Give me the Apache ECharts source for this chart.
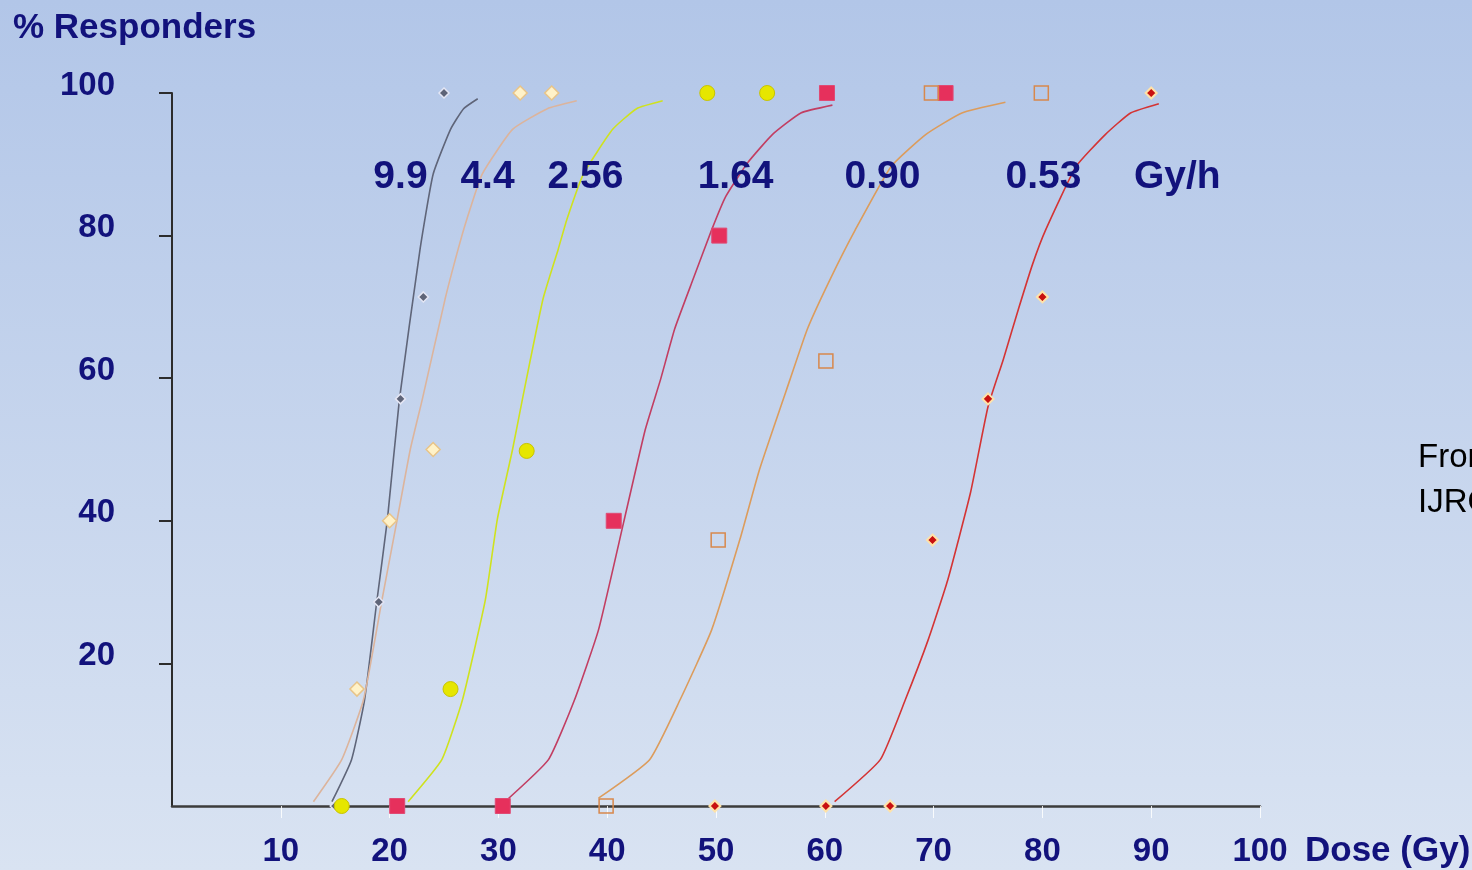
<!DOCTYPE html>
<html>
<head>
<meta charset="utf-8">
<script src="https://cdn.jsdelivr.net/npm/echarts@6/dist/echarts.min.js"></script>
<style>
html,body{margin:0;padding:0;width:1472px;height:870px;overflow:hidden;background:#c4d3ec;}
#chart{width:1472px;height:870px;}
</style>
</head>
<body>
<div id="chart"></div>
<script>
// ---- Data ----
const xTicks = [0, 10, 20, 30, 40, 50, 60, 70, 80, 90, 100];
const yTicks = [0, 20, 40, 60, 80, 100];
const rateLabels = ['9.9', '4.4', '2.56', '1.64', '0.90', '0.53', 'Gy/h'];
const rateLabelDose = [21.0, 29.0, 38.0, 51.8, 65.3, 80.1, 92.4];
const rateLabelResp = [88.2, 88.2, 88.2, 88.2, 88.2, 88.2, 88.2];

// observed points (dose Gy, % responders)
const obsDose1 = [15.0, 19.0, 21.0, 23.1, 25.0];
const obsResp1 = [0, 28.6, 57.1, 71.4, 100];
const obsDose2 = [17.0, 20.0, 24.0, 32.0, 34.9];
const obsResp2 = [16.4, 40.0, 50.0, 100, 100];
const obsDose3 = [15.6, 25.6, 32.6, 49.2, 54.7];
const obsResp3 = [0, 16.4, 49.8, 100, 100];
const obsDose4 = [20.7, 30.4, 40.6, 50.3, 60.2, 71.1];
const obsResp4 = [0, 0, 40.0, 80.0, 100, 100];
const obsDose5 = [39.9, 50.2, 60.1, 69.8, 79.9];
const obsResp5 = [0, 37.3, 62.4, 100, 100];
const obsDose6 = [49.9, 60.1, 66.0, 69.9, 75.0, 80.0, 90.0];
const obsResp6 = [0, 0, 0, 37.3, 57.1, 71.4, 100];

// fitted curves
const fitDose1 = [14.7, 16.5, 17.7, 18.8, 19.8, 20.9, 22.8, 24.0, 25.6, 26.8, 28.1];
const fitResp1 = [0.6, 6.5, 14.9, 28.4, 40.2, 57.0, 78.1, 88.6, 94.9, 97.8, 99.2];
const fitDose2 = [13.0, 15.6, 17.6, 19.3, 20.7, 21.9, 23.0, 25.1, 26.3, 27.1, 28.5, 31.3, 34.5, 37.2];
const fitResp2 = [0.6, 6.5, 14.9, 28.9, 40.2, 50.0, 57.0, 71.1, 78.1, 82.3, 88.6, 94.9, 97.8, 98.9];
const fitDose3 = [21.7, 24.8, 26.7, 28.8, 29.9, 31.3, 32.2, 34.1, 35.5, 36.3, 37.8, 40.5, 42.7, 45.1];
const fitResp3 = [0.6, 6.5, 14.9, 28.9, 40.2, 50.0, 57.0, 71.1, 78.1, 82.3, 88.6, 94.9, 97.8, 98.9];
const fitDose4 = [30.6, 34.6, 37.0, 39.2, 41.5, 43.5, 44.9, 46.2, 47.9, 49.6, 50.9, 52.9, 55.2, 57.8, 60.7];
const fitResp4 = [0.6, 6.5, 14.9, 24.7, 39.7, 52.8, 59.8, 66.9, 73.9, 80.8, 85.5, 90.2, 94.2, 97.2, 98.3];
const fitDose5 = [39.2, 43.9, 46.7, 49.6, 52.2, 54.0, 56.8, 58.4, 60.5, 62.8, 66.1, 69.3, 72.6, 76.6];
const fitResp5 = [1.1, 6.5, 14.9, 24.7, 37.4, 47.2, 59.8, 66.9, 73.9, 80.8, 89.7, 94.2, 97.2, 98.7];
const fitDose6 = [60.9, 65.1, 67.4, 69.5, 71.3, 73.4, 75.0, 76.4, 77.8, 79.1, 80.3, 83.1, 85.8, 88.1, 90.7];
const fitResp6 = [0.6, 6.5, 14.9, 23.3, 31.7, 44.0, 56.0, 62.6, 69.7, 76.0, 80.8, 89.7, 94.2, 97.2, 98.5];

// ---- Build ----
const zip = (a, b) => a.map((v, i) => [v, b[i]]);
const font = '"Liberation Sans", Arial, sans-serif';
const navy = '#12127c';

const curveColors = ['#5f6579', '#dcb49c', '#cfe21e', '#c23e62', '#dc9c5c', '#d43434'];
const fits = [[fitDose1, fitResp1], [fitDose2, fitResp2], [fitDose3, fitResp3],
              [fitDose4, fitResp4], [fitDose5, fitResp5], [fitDose6, fitResp6]];
const obs = [[obsDose1, obsResp1], [obsDose2, obsResp2], [obsDose3, obsResp3],
             [obsDose4, obsResp4], [obsDose5, obsResp5], [obsDose6, obsResp6]];
const markerStyles = [
  {symbol: 'diamond', size: 10, color: '#5e6478', border: '#e4e6f4', bw: 1.5},
  {symbol: 'diamond', size: 14, color: '#fff2c8', border: '#e8c488', bw: 1.5},
  {symbol: 'circle', size: 15, color: '#e6e600', border: '#c8c400', bw: 1},
  {symbol: 'rect', size: 15, color: '#e6305c', border: '#e04a74', bw: 1},
  {symbol: 'rect', size: 14, color: 'rgba(0,0,0,0)', border: '#d8884c', bw: 1.5},
  {symbol: 'diamond', size: 11, color: '#c81010', border: '#ffe2a8', bw: 2}
];

const series = [];
fits.forEach((f, i) => {
  series.push({
    type: 'line', name: 'fit ' + rateLabels[i], data: zip(f[0], f[1]),
    showSymbol: false, smooth: 0.15, silent: true, z: 2,
    lineStyle: {color: curveColors[i], width: 1.6}
  });
});
obs.forEach((o, i) => {
  const m = markerStyles[i];
  series.push({
    type: 'scatter', name: rateLabels[i] + ' Gy/h', data: zip(o[0], o[1]),
    symbol: m.symbol, symbolSize: m.size, z: 4,
    itemStyle: {color: m.color, borderColor: m.border, borderWidth: m.bw, opacity: 1}
  });
});
series.push({
  type: 'scatter', name: 'rates', silent: true, z: 6,
  symbolSize: 1, itemStyle: {color: 'rgba(0,0,0,0)', opacity: 1},
  data: rateLabels.map((t, i) => ({name: t, value: [rateLabelDose[i], rateLabelResp[i]]})),
  label: {show: true, position: 'inside', formatter: p => p.name, opacity: 1,
          color: navy, fontSize: 39, fontWeight: 'bold', fontFamily: font}
});

const chart = echarts.init(document.getElementById('chart'), null, {renderer: 'canvas'});
chart.setOption({
  animation: false,
  backgroundColor: {
    type: 'linear', x: 0, y: 0, x2: 0, y2: 1,
    colorStops: [{offset: 0, color: '#b2c6e8'}, {offset: 1, color: '#d9e3f2'}]
  },
  grid: {left: 172, right: 212, top: 93, bottom: 64, containLabel: false},
  xAxis: {
    type: 'value', min: xTicks[0], max: xTicks[xTicks.length - 1], interval: 10,
    splitLine: {show: false},
    axisLine: {show: true, onZero: false, lineStyle: {color: '#3c3c3c', width: 2.5}},
    axisTick: {show: true, length: 12, lineStyle: {color: 'rgba(255,255,255,0.85)', width: 1}},
    axisLabel: {showMinLabel: false, margin: 29, color: navy, fontSize: 33,
                fontWeight: 'bold', fontFamily: font}
  },
  yAxis: {
    type: 'value', min: yTicks[0], max: yTicks[yTicks.length - 1], interval: 20,
    splitLine: {show: false},
    axisLine: {show: true, onZero: false, lineStyle: {color: '#2c2c2c', width: 2}},
    axisTick: {show: true, length: 13, lineStyle: {color: '#2c2c2c', width: 2}},
    axisLabel: {showMinLabel: false, margin: 57, color: navy, fontSize: 33,
                fontWeight: 'bold', fontFamily: font,
                verticalAlign: 'bottom', lineHeight: 15}
  },
  graphic: [
    {type: 'text', left: 13, top: 11, style: {text: '% Responders', fill: navy,
      font: 'bold 35px ' + font}},
    {type: 'text', left: 1305, top: 834, style: {text: 'Dose (Gy)', fill: navy,
      font: 'bold 35px ' + font}},
    {type: 'text', left: 1418, top: 441, style: {text: 'From', fill: '#000',
      font: '33px ' + font}},
    {type: 'text', left: 1418, top: 486, style: {text: 'IJROBP', fill: '#000',
      font: '33px ' + font}}
  ],
  series: series
});
</script>
</body>
</html>
